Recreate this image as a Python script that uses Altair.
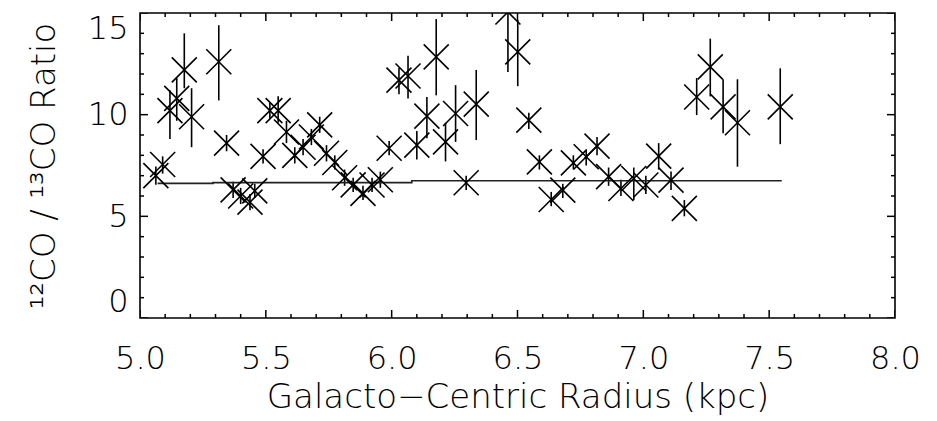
import altair as alt
import pandas as pd

# ---- data ----
radius = [5.063, 5.090, 5.119, 5.146, 5.176, 5.205, 5.313, 5.344, 5.370, 5.400,
          5.437, 5.456, 5.489, 5.516, 5.549, 5.582, 5.615, 5.648, 5.681, 5.714,
          5.741, 5.774, 5.813, 5.847, 5.886, 5.922, 5.955, 5.990, 6.029, 6.065,
          6.100, 6.140, 6.177, 6.214, 6.254, 6.296, 6.336, 6.462, 6.501, 6.545,
          6.587, 6.634, 6.680, 6.722, 6.773, 6.816, 6.862, 6.911, 6.962, 7.010,
          7.061, 7.110, 7.163, 7.212, 7.266, 7.317, 7.374, 7.544]
ratio = [7.00, 7.55, 10.20, 10.80, 12.20, 9.90, 12.60, 8.60, 6.30, 6.00,
         5.70, 6.25, 7.95, 10.20, 10.20, 9.15, 8.00, 8.40, 8.90, 9.50,
         8.10, 7.65, 6.90, 6.55, 6.13, 6.54, 6.80, 8.35, 11.70, 11.90,
         8.50, 9.93, 12.84, 8.66, 10.06, 6.65, 10.52, 15.05, 13.09, 9.73,
         7.68, 5.83, 6.29, 7.63, 7.93, 8.45, 6.95, 6.37, 6.86, 6.54,
         7.96, 6.78, 5.39, 10.87, 12.35, 10.38, 9.60, 10.38]
err_lo = [6.55, 7.10, 8.80, 9.70, 11.30, 8.40, 10.70, 8.20, 5.90, 5.60,
          5.30, 5.90, 7.60, 9.80, 9.60, 8.60, 7.60, 8.00, 8.50, 9.10,
          7.70, 7.30, 6.50, 6.20, 5.80, 6.20, 6.40, 8.00, 11.00, 10.80,
          7.80, 8.84, 10.95, 7.70, 8.66, 6.30, 8.75, 12.10, 11.40, 9.30,
          7.30, 5.50, 5.90, 7.30, 7.50, 8.00, 6.50, 6.00, 5.80, 6.10,
          7.30, 6.30, 5.00, 9.98, 10.90, 9.08, 7.44, 8.55]
err_hi = [7.45, 7.95, 11.20, 11.80, 14.00, 11.30, 14.40, 9.00, 6.70, 6.40,
          6.10, 6.60, 8.30, 10.60, 10.90, 9.70, 8.40, 8.80, 9.30, 9.90,
          8.50, 8.00, 7.30, 6.90, 6.50, 6.90, 7.20, 8.70, 12.30, 12.90,
          9.20, 10.87, 14.70, 9.60, 11.45, 7.00, 12.20, 17.50, 14.65, 10.10,
          8.00, 6.20, 6.60, 8.00, 8.30, 8.90, 7.40, 6.80, 7.40, 7.00,
          8.60, 7.20, 5.80, 11.80, 13.74, 11.74, 11.74, 12.28]

fit_radius = [5.07, 5.29, 6.08, 7.55]
fit_ratio = [6.62, 6.66, 6.75, 6.75]

x_major_values = [5.0, 5.5, 6.0, 6.5, 7.0, 7.5, 8.0]
x_minor_values = [5.1, 5.2, 5.3, 5.4, 5.6, 5.7, 5.8, 5.9,
                  6.1, 6.2, 6.3, 6.4, 6.6, 6.7, 6.8, 6.9,
                  7.1, 7.2, 7.3, 7.4, 7.6, 7.7, 7.8, 7.9]
y_major_values = [0, 5, 10, 15]
y_minor_values = [1, 2, 3, 4, 6, 7, 8, 9, 11, 12, 13, 14]

df = pd.DataFrame({"r": radius, "v": ratio, "lo": err_lo, "hi": err_hi})
fit_df = pd.DataFrame({"r": fit_radius, "v": fit_ratio})
xt_df = pd.DataFrame({"t": x_major_values + x_minor_values,
                      "kind": ["major"] * len(x_major_values) + ["minor"] * len(x_minor_values)})
yt_df = pd.DataFrame({"t": y_major_values + y_minor_values,
                      "kind": ["major"] * len(y_major_values) + ["minor"] * len(y_minor_values)})

W, H = 755, 305
FONT = "DejaVu Sans"
WEIGHT = 200
X_MIN, X_MAX, Y_MIN, Y_MAX = 5, 8, 0, 15

xscale = alt.Scale(domain=[X_MIN, X_MAX], nice=False, zero=False)
yscale = alt.Scale(domain=[Y_MIN, Y_MAX], nice=False, zero=False)

X_TITLE = "Galacto\u2212Centric Radius (kpc)"
Y_TITLE = "\u00b9\u00b2CO / \u00b9\u00b3CO Ratio"

x_main = alt.Axis(values=x_major_values, format=".1f",
                  ticks=False, tickSize=0, domain=False, grid=False,
                  labelFont=FONT, labelFontSize=32, labelFontWeight=WEIGHT,
                  labelColor="#000000", labelPadding=25, labelFlush=False,
                  title=X_TITLE, titleFont=FONT,
                  titleFontSize=34, titleFontWeight=WEIGHT, titleColor="#000000",
                  titlePadding=6)
y_main = alt.Axis(values=y_major_values, format="d",
                  ticks=False, tickSize=0, domain=False, grid=False,
                  labelFont=FONT, labelFontSize=32, labelFontWeight=WEIGHT,
                  labelColor="#000000", labelPadding=12, labelFlush=True,
                  title=Y_TITLE, titleFont=FONT,
                  titleFontSize=34, titleFontWeight=WEIGHT, titleColor="#000000",
                  titlePadding=26)

# inward ticks: ticks centred on the frame edges, outer half clipped away
x_tick_size = alt.Size("kind:N", scale=alt.Scale(domain=["major", "minor"], range=[16, 8]), legend=None)
y_tick_size = alt.Size("kind:N", scale=alt.Scale(domain=["major", "minor"], range=[30, 16]), legend=None)


def x_ticks(edge):
    return alt.Chart(xt_df).mark_tick(orient="vertical", thickness=1.5, color="black",
                                      opacity=1, clip=True).encode(
        x=alt.X("t:Q", scale=xscale, axis=x_main),
        y=alt.YDatum(edge, scale=yscale, axis=y_main),
        size=x_tick_size,
    )


def y_ticks(edge):
    return alt.Chart(yt_df).mark_tick(orient="horizontal", thickness=1.5, color="black",
                                      opacity=1, clip=True).encode(
        y=alt.Y("t:Q", scale=yscale, axis=y_main),
        x=alt.XDatum(edge, scale=xscale, axis=x_main),
        size=y_tick_size,
    )


bars = alt.Chart(df).mark_rule(color="black", strokeWidth=1.6, clip=True).encode(
    x=alt.X("r:Q", scale=xscale, axis=x_main),
    y=alt.Y("lo:Q", scale=yscale, axis=y_main),
    y2="hi:Q",
)

fit = alt.Chart(fit_df).mark_line(interpolate="step-after", color="#222222",
                                  strokeWidth=1.6, clip=True).encode(
    x=alt.X("r:Q", scale=xscale, axis=x_main),
    y=alt.Y("v:Q", scale=yscale, axis=y_main),
)

points = alt.Chart(df).mark_point(shape="M-1,-1L1,1M1,-1L-1,1", filled=False,
                                  size=625, strokeWidth=1.6, color="black",
                                  opacity=1, clip=True).encode(
    x=alt.X("r:Q", scale=xscale, axis=x_main),
    y=alt.Y("v:Q", scale=yscale, axis=y_main),
)

chart = (
    alt.layer(x_ticks(Y_MIN), x_ticks(Y_MAX), y_ticks(X_MIN), y_ticks(X_MAX),
              bars, fit, points)
    .properties(width=W, height=H,
                autosize=alt.AutoSizeParams(type="none"),
                padding={"left": 140, "top": 13, "right": 42, "bottom": 103},
                background="white")
    .configure_view(stroke="black", strokeWidth=1.6)
)

chart.save("out.html", embed_options={"renderer": "svg", "actions": False})
